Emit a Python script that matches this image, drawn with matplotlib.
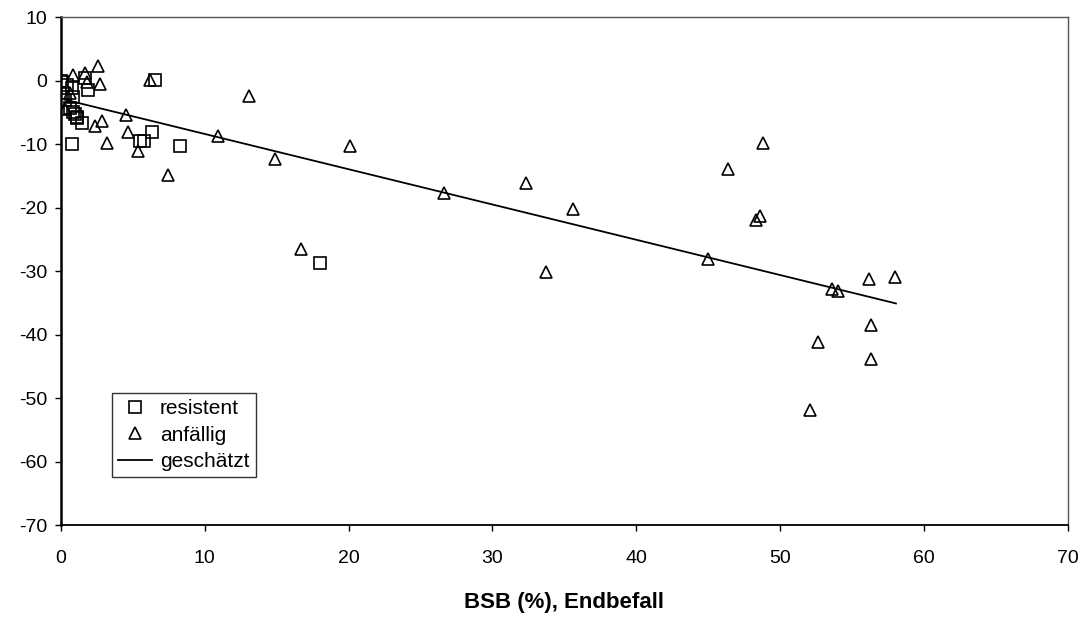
import matplotlib.pyplot as plt

plt.rcParams['font.family'] = ['Liberation Sans', 'DejaVu Sans']
plt.rcParams['axes.unicode_minus'] = False

# resistent (squares)
res_x = [0.0, 0.1, 0.4, 0.74, 1.67, 1.9, 0.85, 0.16, 0.28, 0.63, 0.85, 1.09, 1.44,
         0.74, 6.53, 6.3, 5.5, 5.77, 8.27, 18.0, 0.97, 1.13]
res_y = [0.0, -0.3, -0.7, -1.2, 0.35, -1.5, -2.55, -2.0, -3.1, -4.4, -4.9, -5.7, -6.7,
         -10.0, 0.08, -8.1, -9.6, -9.6, -10.3, -28.8, -5.2, -5.95]

# anfällig (triangles)
anf_x = [0.86, 1.67, 2.59, 1.79, 2.71, 6.18, 4.52, 2.83, 2.36, 4.68, 3.18, 5.33,
         7.45, 10.93, 13.1, 14.9, 20.1, 16.7, 26.6, 32.3, 35.6, 33.7, 0.3, 0.6,
         45.0, 46.4, 48.8, 48.3, 48.6, 53.6, 54.0, 56.2, 58.0, 56.3, 52.6, 56.3, 52.1]
anf_y = [0.87, 1.13, 2.3, -0.2, -0.55, 0.08, -5.4, -6.3, -7.2, -8.1, -9.8, -11.1,
         -14.9, -8.7, -2.5, -12.3, -10.3, -26.6, -17.7, -16.2, -20.3, -30.1, -4.5, -2.0,
         -28.1, -14.0, -9.8, -21.9, -21.3, -32.8, -33.1, -31.2, -31.0, -38.5, -41.1, -43.9, -51.9]

# geschätzt (fitted line)
fit_x = [0.25, 58.05]
fit_y = [-3.0, -35.1]

fig = plt.figure(figsize=(10.85, 6.17), dpi=100)
ax = fig.add_axes([0.0562, 0.149, 0.928, 0.8234])

ax.plot(res_x, res_y, linestyle='none', marker='s', markersize=8,
        markerfacecolor='none', markeredgecolor='black', markeredgewidth=1.2,
        label='resistent')
ax.plot(anf_x, anf_y, linestyle='none', marker='^', markersize=9,
        markerfacecolor='none', markeredgecolor='black', markeredgewidth=1.2,
        label='anfällig')
ax.plot(fit_x, fit_y, color='black', linewidth=1.3, label='geschätzt')

ax.set_xlim(0, 70)
ax.set_ylim(-70, 10)
ax.set_xticks(range(0, 71, 10))
ax.set_yticks(range(-70, 11, 10))
ax.tick_params(labelsize=14, length=4, width=1, color='black')
ax.tick_params(axis='x', pad=14)
ax.tick_params(axis='y', pad=6)

for s in ['top', 'right']:
    ax.spines[s].set_color('#555555')
    ax.spines[s].set_linewidth(1)
ax.spines['left'].set_linewidth(1.8)
ax.spines['bottom'].set_linewidth(1.3)

ax.set_xlabel('BSB (%), Endbefall', fontsize=16, fontweight='bold', labelpad=18)

leg = ax.legend(loc='lower left', bbox_to_anchor=(0.0506, 0.0945), borderaxespad=0,
                fontsize=15, frameon=True, fancybox=False, edgecolor='black',
                handlelength=1.6, borderpad=0.3, labelspacing=0.35,
                handletextpad=0.4)
leg.get_frame().set_linewidth(1)

fig.savefig('out.png', dpi=100)
